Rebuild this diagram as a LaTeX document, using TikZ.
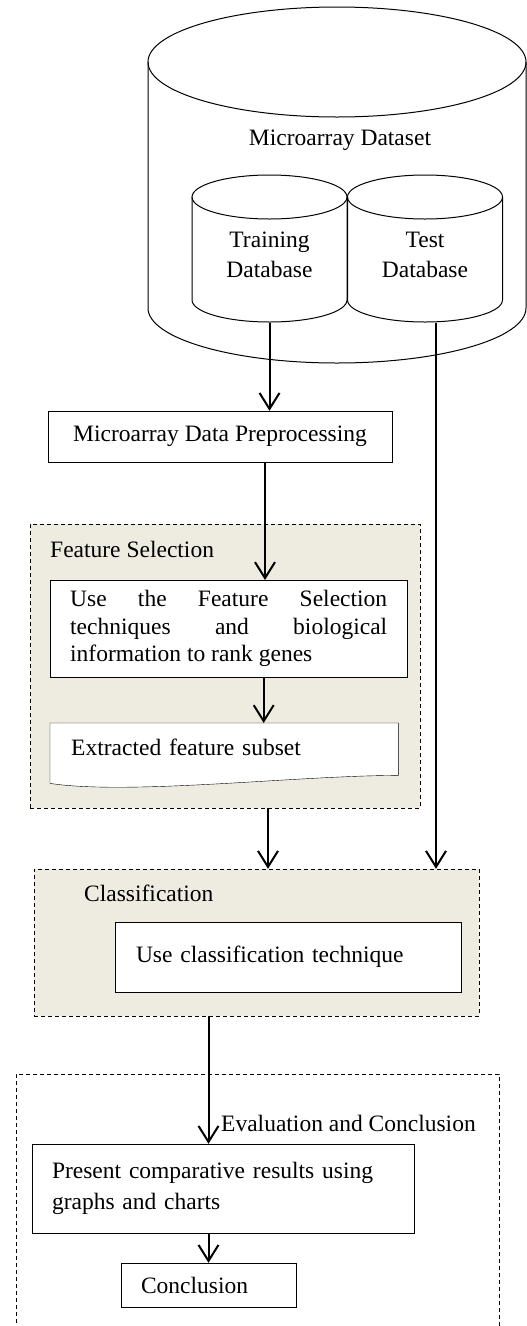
\documentclass[tikz,border=0pt]{standalone}
\usepackage{fontspec}
\setmainfont{Liberation Serif}
\usetikzlibrary{arrows.meta, backgrounds}
\definecolor{ctan}{HTML}{EEECE1}
\tolerance=10000
\hyphenpenalty=10000
\tikzset{
  every picture/.style={line width=1pt},
  box/.style={draw, fill=white, inner sep=0pt, inner xsep=20pt},
  group/.style={draw, dash pattern=on 4pt off 3pt, inner sep=0pt},
  tag/.style={anchor=base west, inner sep=0pt},
  arrow/.style={-{Straight Barb[length=16pt, width=20pt]}, line width=2pt},
}

\begin{document}
\begin{tikzpicture}[x=1pt, y=-1pt, font=\fontsize{23.5}{29}\selectfont,
  dbtext/.style={align=center, minimum width=155, minimum height=134, font=\fontsize{23.5}{30}\selectfont}]
  \useasboundingbox (0,0) rectangle (527,1326);
  \clip (0,0) rectangle (527,1326);
  % dataset cylinder and the two databases
  \draw (337,62) ellipse [x radius=189, y radius=55];
  \draw (148,62) -- (148,308) arc [start angle=180, end angle=0, x radius=189, y radius=55] -- (526,62);
  \foreach \cx in {269.5, 425} {
    \draw (\cx,197) ellipse [x radius=77.5, y radius=22];
    \draw (\cx-77.5,197) -- (\cx-77.5,300) arc [start angle=180, end angle=0, x radius=77.5, y radius=22] -- (\cx+77.5,197);
  }
  \node[anchor=base, inner sep=0pt] (dataset) at (340,145) {Microarray Dataset};
  \node[dbtext] (train) at (269.5,255) {Training\\Database};
  \node[dbtext] (test) at (425,255) {Test\\Database};

  % group frames
  \begin{pgfonlayer}{background}
    \node[group, fill=ctan, minimum width=390, minimum height=284] (fsgrp) at (225,666) {};
    \node[group, fill=ctan, minimum width=445, minimum height=147] (classgrp) at (256.5,942.5) {};
    \node[group, minimum width=483, minimum height=280] (evalgrp) at (257.5,1214) {};
  \end{pgfonlayer}
  \node[tag] (fstag) at (50,557) {Feature Selection};
  \node[tag] (classtag) at (84,901) {Classification};
  \node[tag] (evaltag) at (221,1131) {Evaluation and Conclusion};

  % steps
  \node[box, minimum width=344, minimum height=51, inner xsep=0pt] (prep) at (220,436.5) {Microarray Data Preprocessing};
  \node[box, anchor=north west, minimum width=357, minimum height=97, text width=317, align=justify,
    font={\fontsize{23.5}{27.5}\selectfont}] (fsrank) at (50,580)
    {Use the Feature Selection \mbox{techniques} and biological \mbox{information} to rank genes};
  \node[box, anchor=north west, draw=none, fill=none, minimum width=347, minimum height=48, text width=306, inner xsep=21pt, align=left] (fssub) at (50,723) {Extracted feature subset};
  \begin{pgfonlayer}{background}
    \draw[fill=white] (fssub.north west) -- (fssub.north east) -- ([yshift=-4pt]fssub.south east)
      .. controls +(-100,0) and +(80,12) .. ([yshift=-12pt]fssub.south west) -- cycle;
  \end{pgfonlayer}
  \node[box, minimum width=346, minimum height=70, text width=304, inner xsep=21pt, align=left] (classbox) at (288,957) {Use classification technique};
  \node[box, minimum width=382, minimum height=89, text width=342, align=left, font={\fontsize{23.5}{31}\selectfont}] (pres) at (223,1188.5) {Present comparative results using\\graphs and charts};
  \node[box, minimum width=175, minimum height=44, text width=135, align=left] (concl) at (208.5,1285) {Conclusion};

  % flow
  \draw[arrow] (train.south) -- (train.south |- prep.north);
  \draw[arrow] ([xshift=11pt]test.south) -- ([xshift=11pt]test.south |- classgrp.north);
  \draw[arrow] ([xshift=45pt]prep.south) -- ([xshift=45pt]prep.south |- fsrank.north);
  \draw[arrow] ([xshift=35pt]fsrank.south) -- ([xshift=35pt]fsrank.south |- fssub.north);
  \draw[arrow] ([xshift=43pt]fsgrp.south) -- ([xshift=43pt]fsgrp.south |- classgrp.north);
  \draw[arrow] (classgrp.south -| concl.north) -- (pres.north -| concl.north);
  \draw[arrow] (pres.south -| concl.north) -- (concl.north);
\end{tikzpicture}
\end{document}
